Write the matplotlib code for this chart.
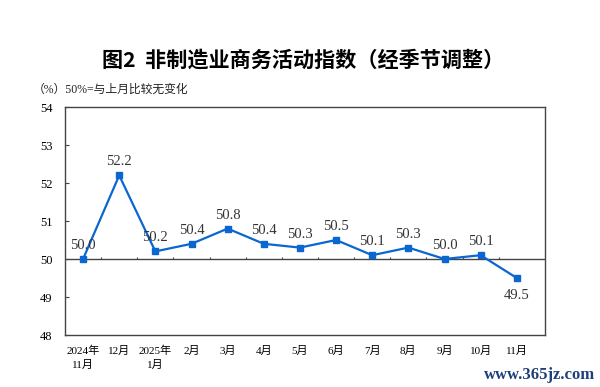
import matplotlib
matplotlib.use("Agg")
import matplotlib.pyplot as plt

categories = ["2024年\n11月", "12月", "2025年\n1月", "2月", "3月", "4月", "5月",
              "6月", "7月", "8月", "9月", "10月", "11月"]
values = [50.0, 52.2, 50.2, 50.4, 50.8, 50.4, 50.3, 50.5, 50.1, 50.3, 50.0, 50.1, 49.5]
yticks = [48, 49, 50, 51, 52, 53, 54]

fam = ['Liberation Serif', 'Noto Sans CJK SC']
plt.rcParams['font.family'] = fam

fig = plt.figure(figsize=(6, 3.87), dpi=100)
ax = fig.add_axes([65/600, 1-335/387, 480/600, 228/387])

x = list(range(len(values)))
ax.plot(x, values, color='#0A66D0', lw=1.6, marker='s', ms=4.5, zorder=3)

for xi, v in zip(x, values):
    if xi == len(values) - 1:
        ax.annotate(f"{v:.1f}", (xi, v), xytext=(0, -8), textcoords='offset points',
                    ha='center', va='top', fontsize=10.5, color='#333333')
    else:
        ax.annotate(f"{v:.1f}", (xi, v), xytext=(0, 5), textcoords='offset points',
                    ha='center', va='bottom', fontsize=10.5, color='#333333')

ax.set_ylim(48, 54)
ax.set_xlim(-0.5, 12.78)
ax.set_yticks(yticks)
ax.set_yticklabels([str(t) for t in yticks], fontsize=9)
ax.tick_params(axis='y', direction='in', length=3, width=0.8, color='#444444', pad=9)

ax.set_xticks(x)
ax.set_xticklabels(categories, fontsize=8, linespacing=1.45)
ax.tick_params(axis='x', length=0, pad=8)

for s in ax.spines.values():
    s.set_color('#444444')
    s.set_linewidth(1.0)

# reference line at 50 with small category separator ticks
ax.axhline(50, color='#444444', lw=1.0, zorder=2)
ax.vlines([i + 0.5 for i in range(len(values) - 1)], 50, 50.06, color='#444444', lw=0.8, zorder=2)

fig.text(0.505, 1-60/387, "图2  非制造业商务活动指数（经季节调整）", ha='center', va='center',
         fontsize=15.2, fontweight='bold', family=['Noto Sans CJK SC'])
fig.text(33/600, 1-90/387, "（%）50%=与上月比较无变化", ha='left', va='center',
         fontsize=8.5, color='#222222')
fig.text(595/600, 1-375/387, "www.365jz.com", ha='right', va='center',
         fontsize=12, fontweight='bold', color='#1E3F7A', family=['Liberation Serif'])

fig.savefig("out.png", dpi=100)
